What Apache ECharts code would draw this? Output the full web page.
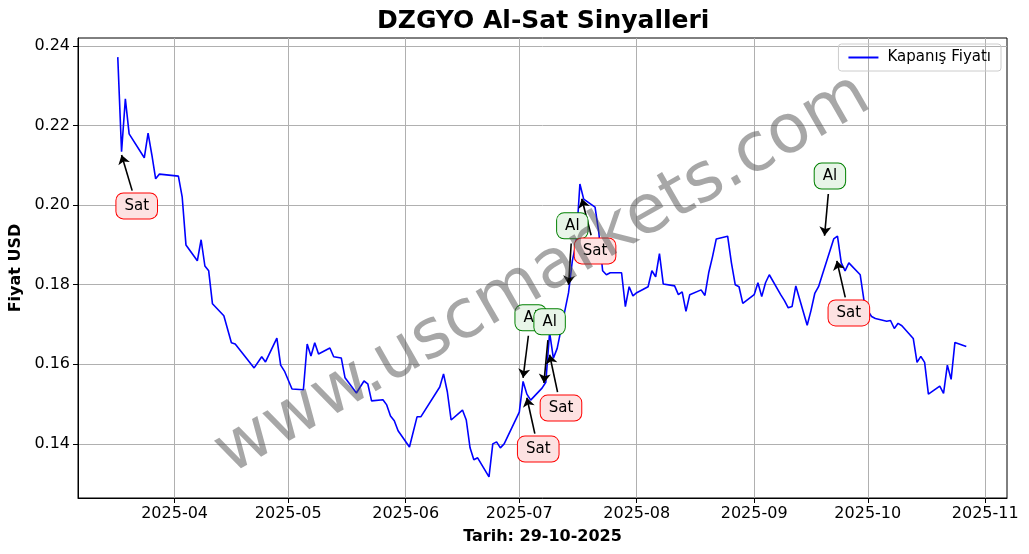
<!DOCTYPE html>
<html>
<head>
<meta charset="utf-8">
<script src="https://cdn.jsdelivr.net/npm/echarts@6/dist/echarts.min.js"></script>
<style>html,body{margin:0;padding:0;background:#fff}#chart{width:1029px;height:554px}</style>
</head>
<body>
<div id="chart"></div>
<script>
// closing prices
var dates = ['2025-03-17','2025-03-18','2025-03-19','2025-03-20','2025-03-24','2025-03-25','2025-03-26','2025-03-27','2025-03-28',
    '2025-04-02','2025-04-03','2025-04-04','2025-04-07','2025-04-08','2025-04-09','2025-04-10','2025-04-11','2025-04-14','2025-04-16','2025-04-17',
    '2025-04-22','2025-04-24','2025-04-25','2025-04-28','2025-04-29','2025-04-30','2025-05-02','2025-05-05','2025-05-06','2025-05-07','2025-05-08',
    '2025-05-09','2025-05-12','2025-05-13','2025-05-15','2025-05-16','2025-05-19','2025-05-21','2025-05-22','2025-05-23','2025-05-26','2025-05-27',
    '2025-05-28','2025-05-29','2025-05-30','2025-06-02','2025-06-04','2025-06-05','2025-06-10','2025-06-11','2025-06-12','2025-06-13','2025-06-16',
    '2025-06-17','2025-06-18','2025-06-19','2025-06-20','2025-06-23','2025-06-24','2025-06-25','2025-06-26','2025-06-27',
    '2025-07-01','2025-07-02','2025-07-03','2025-07-04','2025-07-07','2025-07-08','2025-07-09','2025-07-10','2025-07-11','2025-07-14','2025-07-15',
    '2025-07-16','2025-07-17','2025-07-18','2025-07-21','2025-07-22','2025-07-23','2025-07-24','2025-07-25','2025-07-28','2025-07-29','2025-07-30','2025-07-31',
    '2025-08-01','2025-08-04','2025-08-05','2025-08-06','2025-08-07','2025-08-08','2025-08-11','2025-08-12','2025-08-13','2025-08-14','2025-08-15',
    '2025-08-18','2025-08-19','2025-08-20','2025-08-21','2025-08-22','2025-08-25','2025-08-26','2025-08-27','2025-08-28','2025-08-29',
    '2025-09-01','2025-09-02','2025-09-03','2025-09-04','2025-09-05','2025-09-08','2025-09-09','2025-09-10','2025-09-11','2025-09-12','2025-09-15',
    '2025-09-16','2025-09-17','2025-09-18','2025-09-19','2025-09-22','2025-09-23','2025-09-24','2025-09-25','2025-09-26','2025-09-29','2025-09-30',
    '2025-10-01','2025-10-02','2025-10-03','2025-10-06','2025-10-07','2025-10-08','2025-10-09','2025-10-10','2025-10-13','2025-10-14','2025-10-15',
    '2025-10-16','2025-10-17','2025-10-20','2025-10-21','2025-10-22','2025-10-23','2025-10-24','2025-10-27'];
var prices = [0.2372,0.2134,0.2267,0.2179,0.2119,0.2181,0.2126,0.2066,0.2078,
    0.2073,0.2021,0.1900,0.1860,0.1913,0.1847,0.1835,0.1752,0.1722,0.1654,0.1651,
    0.1591,0.1619,0.1606,0.1666,0.1598,0.1583,0.1538,0.1536,0.1651,0.1621,0.1654,
    0.1626,0.1641,0.1619,0.1616,0.1566,0.1528,0.1558,0.1551,0.1508,0.1511,0.1498,
    0.1470,0.1458,0.1433,0.1392,0.1468,0.1468,0.1543,0.1576,0.1531,0.1460,0.1485,
    0.1460,0.1390,0.1360,0.1365,0.1317,0.1400,0.1405,0.1390,0.1400,
    0.1480,0.1557,0.1525,0.1510,0.1540,0.1555,0.1680,0.1615,0.1640,0.1780,0.1860,
    0.1905,0.2053,0.2015,0.1995,0.1930,0.1835,0.1825,0.1830,0.1830,0.1745,0.1795,0.1772,
    0.1780,0.1795,0.1835,0.1820,0.1878,0.1802,0.1797,0.1775,0.1782,0.1733,0.1775,
    0.1787,0.1773,0.1830,0.1870,0.1915,0.1922,0.1855,0.1800,0.1795,0.1753,
    0.1775,0.1805,0.1770,0.1805,0.1825,0.1775,0.1760,0.1742,0.1745,0.1797,0.1698,
    0.1735,0.1778,0.1795,0.1825,0.1915,0.1922,0.1855,0.1835,0.1855,0.1825,0.1760,
    0.1735,0.1720,0.1715,0.1708,0.1710,0.1690,0.1703,0.1697,0.1665,0.1605,0.1620,
    0.1605,0.1525,0.1545,0.1527,0.1598,0.1562,0.1655,0.1645];

// signals: label, where the label sits, where the arrow points
var sigLabels = ['Sat','Al','Sat','Al','Sat','Al','Sat','Al','Sat'];
var sigTextDates = ['2025-03-22','2025-07-04','2025-07-06','2025-07-09','2025-07-12','2025-07-15','2025-07-21','2025-09-21','2025-09-26'];
var sigTextValues = [0.1998,0.1717,0.1387,0.1707,0.1490,0.1948,0.1885,0.2073,0.1729];
var sigTipDates = ['2025-03-18','2025-07-02','2025-07-03','2025-07-07 12:00','2025-07-09','2025-07-14','2025-07-17 12:00','2025-09-19 14:00','2025-09-22 20:00'];
var sigTipValues = [0.2126,0.1566,0.1516,0.1553,0.1624,0.1800,0.2016,0.1923,0.1860];

var yTicks = [0.14,0.16,0.18,0.20,0.22,0.24];
var xTicks = ['2025-04-01','2025-05-01','2025-06-01','2025-07-01','2025-08-01','2025-09-01','2025-10-01','2025-11-01'];

var t = function(s){ if (s.length === 10) s += ' 00:00'; return new Date(s.replace(' ', 'T')).getTime(); };
var xTickVals = xTicks.map(t);

var lines = [], points = [];
sigLabels.forEach(function(lab, i){
    var sell = lab === 'Sat';
    var x0 = t(sigTextDates[i]), y0 = sigTextValues[i];
    var x1 = t(sigTipDates[i]), y1 = sigTipValues[i];
    // start arrow just outside the label box
    var f = 0.3;
    lines.push([{coord: [x0 + (x1 - x0) * f, y0 + (y1 - y0) * f]}, {coord: [x1, y1]}]);
    points.push({
        coord: [x0, y0], value: lab,
        label: {
            show: true, formatter: lab, color: '#000', fontSize: 15, position: 'inside',
            fontFamily: 'DejaVu Sans',
            backgroundColor: sell ? '#fde2e2' : '#e8f5e8',
            borderColor: sell ? '#ff0000' : '#008000', borderWidth: 1,
            borderRadius: 7, padding: [5, 8]
        }
    });
});

var chart = echarts.init(document.getElementById('chart'));
chart.setOption({
    animation: false,
    title: {
        text: 'DZGYO Al-Sat Sinyalleri', left: 372, top: 4,
        textStyle: {fontSize: 25, fontWeight: 'bold', color: '#000', fontFamily: 'DejaVu Sans'}
    },
    legend: {
        right: 28, top: 44, data: ['Kapanış Fiyatı'],
        icon: 'path://M0,0 L30,0 L30,2 L0,2 Z', itemWidth: 38, itemHeight: 2, itemGap: 8,
        borderColor: '#ccc', borderWidth: 1, borderRadius: 3, padding: [6, 10],
        textStyle: {fontSize: 15, color: '#000', fontFamily: 'DejaVu Sans'}
    },
    grid: {left: 78, right: 22, top: 38, bottom: 56, outerBoundsMode: 'none', containLabel: false,
        show: true, borderColor: '#000', borderWidth: 1},
    xAxis: {
        type: 'value', min: t('2025-03-06 12:00'), max: t('2025-11-06 18:00'),
        name: 'Tarih: 29-10-2025', nameLocation: 'middle', nameGap: 31,
        nameTextStyle: {fontSize: 16, fontWeight: 'bold', color: '#000', fontFamily: 'DejaVu Sans'},
        axisLine: {lineStyle: {color: '#000'}},
        axisTick: {customValues: xTickVals, length: 5, lineStyle: {color: '#000'}},
        axisLabel: {
            customValues: xTickVals, fontSize: 16, color: '#000', fontFamily: 'DejaVu Sans',
            formatter: function(v){ var d = new Date(v); return d.getFullYear() + '-' + ('0' + (d.getMonth() + 1)).slice(-2); }
        },
        splitLine: {show: true, lineStyle: {color: '#b0b0b0'}}
    },
    yAxis: {
        type: 'value', min: 0.1264, max: 0.242,
        name: 'Fiyat USD', nameLocation: 'middle', nameGap: 48,
        nameTextStyle: {fontSize: 16, fontWeight: 'bold', color: '#000', fontFamily: 'DejaVu Sans'},
        axisLine: {show: true, lineStyle: {color: '#000'}},
        axisTick: {show: true, customValues: yTicks, length: 5, lineStyle: {color: '#000'}},
        axisLabel: {customValues: yTicks, fontSize: 16, color: '#000', fontFamily: 'DejaVu Sans',
            formatter: function(v){ return v.toFixed(2); }},
        splitLine: {show: true, lineStyle: {color: '#b0b0b0'}}
    },
    graphic: [{
        type: 'text', x: 543, y: 275, rotation: 0.52, z: 100,
        style: {text: 'www.uscmarkets.com', fontSize: 68, fill: 'rgba(80,80,80,0.5)', fontFamily: 'DejaVu Sans',
            align: 'center', verticalAlign: 'middle'}
    }],
    series: [{
        name: 'Kapanış Fiyatı', type: 'line', showSymbol: false, symbol: 'none',
        lineStyle: {color: '#0000ff', width: 1.6}, itemStyle: {color: '#0000ff'},
        data: dates.map(function(d, i){ return [t(d), prices[i]]; }),
        markLine: {
            silent: true, symbol: ['none', 'arrow'], symbolSize: 9,
            lineStyle: {color: '#000', width: 1.6, type: 'solid'},
            label: {show: false}, data: lines
        },
        markPoint: {symbol: 'rect', symbolSize: 1, itemStyle: {color: 'transparent'}, data: points}
    }]
});
</script>
</body>
</html>
